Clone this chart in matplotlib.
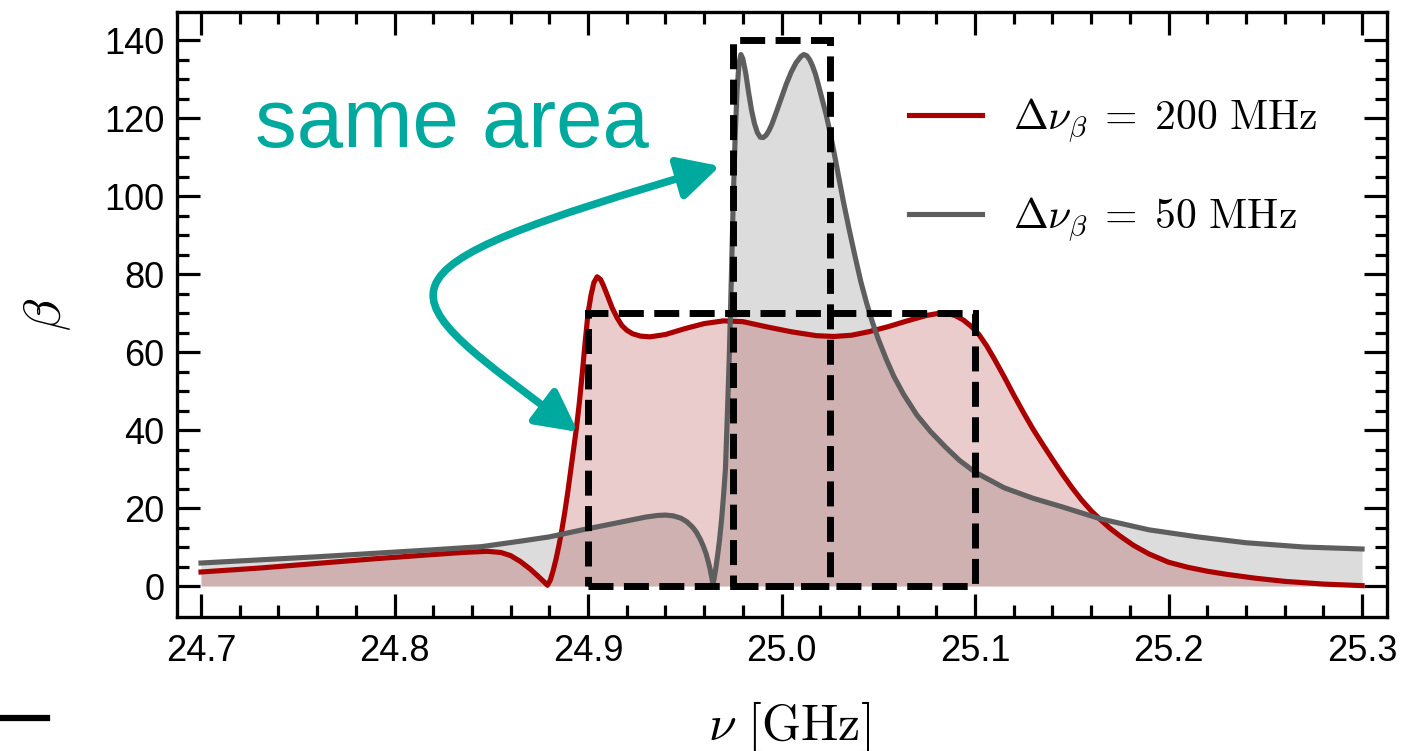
import numpy as np
import matplotlib.pyplot as plt
from matplotlib.patches import Rectangle, FancyArrowPatch
from matplotlib.path import Path
from matplotlib.lines import Line2D
from matplotlib.ticker import FixedLocator, FormatStrFormatter

plt.rcParams['font.family'] = ['Liberation Sans', 'DejaVu Sans']
plt.rcParams['mathtext.fontset'] = 'cm'

# boost factor, 200 MHz bandwidth configuration
nu_wide = [24.700, 24.730, 24.760, 24.790, 24.815, 24.835, 24.848, 24.855, 24.860, 24.865,
           24.870, 24.874, 24.877, 24.879, 24.8805, 24.882, 24.8835, 24.885, 24.8865, 24.888,
           24.8895, 24.891, 24.8925, 24.894, 24.8955, 24.897, 24.8985, 24.900, 24.9015, 24.903,
           24.9047, 24.9065, 24.908, 24.910, 24.9125, 24.915, 24.9175, 24.920, 24.923, 24.927,
           24.932, 24.940, 24.950, 24.960, 24.970, 24.980, 24.992, 25.005, 25.018, 25.027,
           25.036, 25.045, 25.055, 25.065, 25.075, 25.082, 25.086, 25.090, 25.094, 25.098,
           25.102, 25.106, 25.110, 25.115, 25.120, 25.125, 25.130, 25.135, 25.140, 25.145,
           25.150, 25.155, 25.160, 25.165, 25.170, 25.175, 25.182, 25.190, 25.200, 25.210,
           25.220, 25.230, 25.245, 25.260, 25.280, 25.300]
beta_wide = [3.6, 4.6, 5.8, 7.0, 7.9, 8.6, 8.9, 8.6, 7.8, 6.3,
             4.4, 2.6, 1.2, 0.2, 1.5, 4.0, 7.0, 10.5, 14.5, 19.0,
             24.0, 29.5, 35.0, 40.5, 47.0, 54.5, 62.5, 70.0, 74.5, 77.8,
             79.3, 78.6, 77.0, 74.5, 71.3, 68.8, 66.8, 65.6, 64.7, 64.1,
             63.9, 64.5, 66.0, 67.3, 68.0, 67.8, 66.5, 65.2, 64.2, 64.0,
             64.3, 65.2, 66.5, 68.0, 69.4, 70.0, 69.9, 69.3, 68.2, 66.6,
             64.5, 61.6, 58.2, 53.7, 49.0, 44.5, 40.2, 36.3, 32.5, 28.8,
             25.3, 22.1, 19.3, 16.9, 14.7, 12.8, 10.4, 8.2, 6.1, 4.8,
             3.8, 3.0, 2.0, 1.2, 0.5, 0.1]

# boost factor, 50 MHz bandwidth configuration
nu_narrow = [24.700, 24.730, 24.760, 24.790, 24.820, 24.845, 24.865, 24.880, 24.897, 24.910,
             24.920, 24.930, 24.936, 24.940, 24.944, 24.948, 24.951, 24.954, 24.956, 24.958,
             24.9595, 24.961, 24.962, 24.963, 24.964, 24.9645, 24.965, 24.966, 24.967, 24.968,
             24.969, 24.970, 24.971, 24.972, 24.973, 24.974, 24.975, 24.976, 24.977, 24.978,
             24.979, 24.980, 24.9815, 24.983, 24.9845, 24.986, 24.9875, 24.989, 24.9905, 24.992,
             24.9935, 24.995, 24.9975, 25.000, 25.0025, 25.005, 25.0075, 25.010, 25.0115, 25.013,
             25.0145, 25.016, 25.0175, 25.019, 25.021, 25.023, 25.025, 25.027, 25.0295, 25.032,
             25.035, 25.038, 25.041, 25.044, 25.047, 25.050, 25.054, 25.058, 25.063, 25.070,
             25.077, 25.085, 25.092, 25.100, 25.115, 25.130, 25.145, 25.165, 25.190, 25.215,
             25.240, 25.270, 25.300]
beta_narrow = [5.9, 6.7, 7.5, 8.4, 9.3, 10.1, 11.5, 12.6, 14.4, 15.7,
               16.7, 17.7, 18.1, 18.2, 18.0, 17.4, 16.5, 15.1, 13.8, 12.0,
               10.3, 8.3, 6.5, 4.5, 2.0, 0.5, 1.5, 4.5, 8.0, 12.0,
               17.0, 23.0, 30.0, 44.0, 59.0, 78.0, 98.0, 115.0, 127.0, 134.0,
               136.3, 135.2, 131.5, 126.5, 122.0, 118.6, 116.3, 115.1, 115.0, 115.6,
               116.8, 118.4, 121.8, 125.3, 128.8, 131.8, 134.2, 135.8, 136.3, 136.0,
               135.0, 133.4, 131.3, 128.6, 124.8, 121.0, 116.5, 111.5, 105.0, 98.5,
               91.3, 84.5, 78.0, 72.5, 67.6, 63.3, 58.3, 53.8, 49.2, 43.8,
               39.6, 35.5, 32.2, 29.2, 25.2, 22.5, 20.3, 17.2, 14.4, 12.6,
               11.1, 10.0, 9.5]

# equal-area boxes: (nu_min, nu_max, height)
box_wide = (24.9, 25.1, 70)
box_narrow = (24.975, 25.025, 140)

labels = [r'$\Delta\nu_\beta \;=\; 200\ \mathrm{MHz}$', r'$\Delta\nu_\beta \;=\; 50\ \mathrm{MHz}$']
x_ticks = [24.7, 24.8, 24.9, 25.0, 25.1, 25.2, 25.3]
y_ticks = [0, 20, 40, 60, 80, 100, 120, 140]

red = '#aa0000'
grey = '#5e5e5e'
teal = '#00a99d'

fig = plt.figure(figsize=(14.22, 7.51), dpi=100)
ax = fig.add_axes([0.1245, 0.1784, 0.8509, 0.8056])

# fills under both curves
ax.fill_between(nu_narrow, beta_narrow, 0, color='#dcdcdc', lw=0, zorder=1)
ax.fill_between(nu_wide, beta_wide, 0, color=(0.65, 0.14, 0.14), alpha=0.23, lw=0, zorder=1.1)

ax.plot(nu_wide, beta_wide, color=red, lw=3.7, label=labels[0], zorder=2,
        solid_joinstyle='round')
ax.plot(nu_narrow, beta_narrow, color=grey, lw=3.7, label=labels[1], zorder=2.1,
        solid_joinstyle='round')

# dashed boxes of equal area
for lo, hi, h in (box_wide, box_narrow):
    rect = Rectangle((lo, 0), hi - lo, h, fill=False, ec='black', lw=5,
                     ls=(0, (3.6, 1.5)), zorder=3)
    ax.add_patch(rect)

# curved double arrow linking the two regions
verts = [(24.8948, 39.5), (24.7956, 76.4), (24.7749, 79.7), (24.9682, 107.7)]
codes = [Path.MOVETO, Path.CURVE4, Path.CURVE4, Path.CURVE4]
arrow = FancyArrowPatch(path=Path(verts, codes), arrowstyle='<|-|>,head_length=25,head_width=13',
                        color=teal, lw=5.5, mutation_scale=1, zorder=4)
ax.add_patch(arrow)
ax.text(24.728, 112.5, 'same area', color=teal, fontsize=60, ha='left', va='baseline')

ax.set_xlim(24.6876, 25.3129)
ax.set_ylim(-7.95, 147.2)

ax.xaxis.set_major_locator(FixedLocator(x_ticks))
ax.xaxis.set_minor_locator(FixedLocator(np.arange(24.7, 25.301, 0.02)))
ax.xaxis.set_major_formatter(FormatStrFormatter('%.1f'))
ax.yaxis.set_major_locator(FixedLocator(y_ticks))
ax.yaxis.set_minor_locator(FixedLocator(np.arange(0, 141, 5)))

ax.tick_params(which='both', direction='in', top=True, right=True, width=2.3,
               labelsize=26, colors='black')
ax.tick_params(which='major', length=16.5)
ax.tick_params(which='minor', length=8.5)
ax.tick_params(axis='x', pad=12)
ax.tick_params(axis='y', pad=9)
for s in ax.spines.values():
    s.set_linewidth(2.4)

ax.set_xlabel(r'$\nu\ [\mathrm{GHz}]$', fontsize=36)
ax.xaxis.set_label_coords(0.506, -0.135)
ax.set_ylabel(r'$\beta$', fontsize=38)
ax.yaxis.set_label_coords(-0.086, 0.5)

ax.legend(loc='upper left', bbox_to_anchor=(0.605, 0.86), frameon=False, fontsize=30,
          handlelength=1.75, handletextpad=0.75, labelspacing=1.22, borderpad=0,
          borderaxespad=0)

fig.add_artist(Line2D([0, 0.033], [0.044, 0.044], color='black', lw=4.5,
                      transform=fig.transFigure))

fig.savefig('out.png', dpi=100)
